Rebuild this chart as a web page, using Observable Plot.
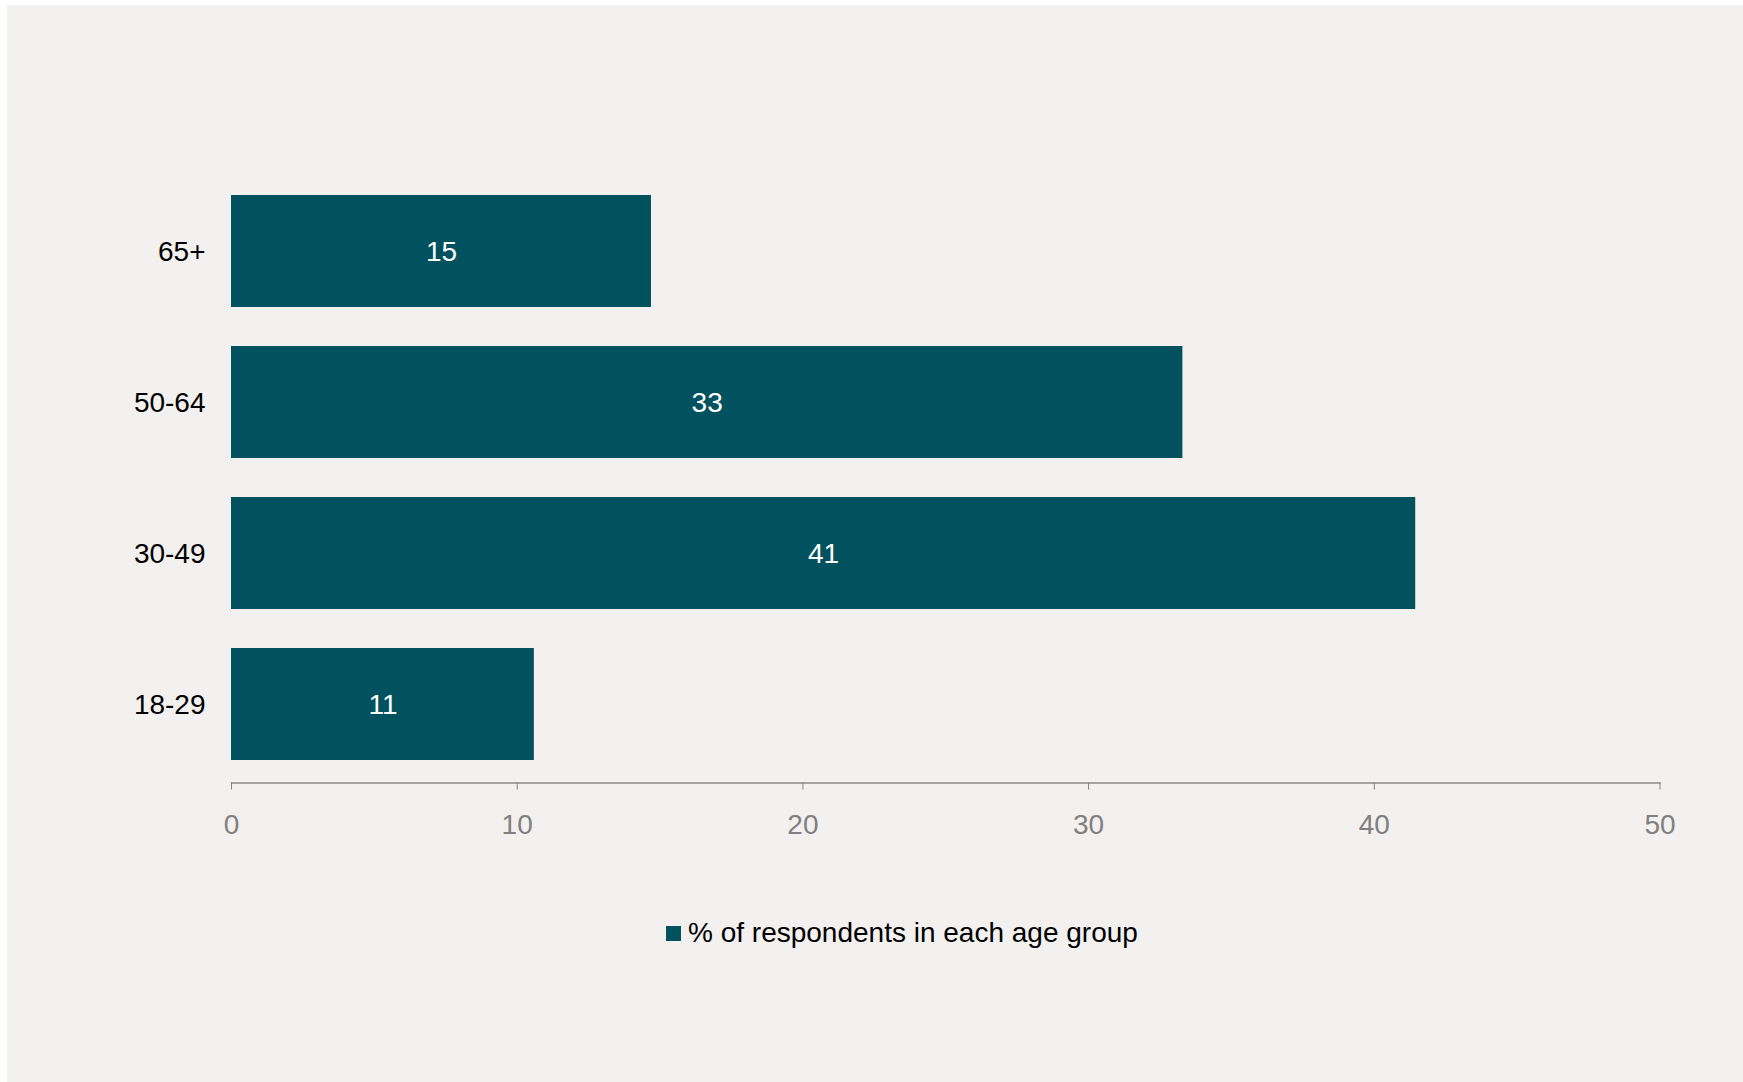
<!DOCTYPE html>
<html>
<head>
<meta charset="utf-8">
<script src="https://cdn.jsdelivr.net/npm/d3@7"></script>
<script src="https://cdn.jsdelivr.net/npm/@observablehq/plot@0.6"></script>
<style>
  html, body { margin: 0; padding: 0; background: #ffffff; }
  body { width: 1743px; height: 1082px; overflow: hidden; position: relative; font-family: "Liberation Sans", Arial, sans-serif; }
  #panel { position: absolute; left: 7px; top: 5px; width: 1736px; height: 1077px; background: #f2f1ef; }
  #chart svg { display: block; }
  #legend { position: absolute; left: 659px; top: 906px; display: flex; align-items: center; gap: 7px; font-size: 28px; color: #000; line-height: 44px; }
  #legend .sw { width: 15px; height: 15px; background: #01525e; margin-top: 1px; }
</style>
</head>
<body>
<div id="panel">
  <div id="chart"></div>
  <div id="legend"><span class="sw"></span><span id="legend-text"></span></div>
</div>
<script>
const categories = ["65+", "50-64", "30-49", "18-29"];
const values = [14.7, 33.3, 41.45, 10.6];
const xTicks = [0, 10, 20, 30, 40, 50];
const seriesName = "% of respondents in each age group";

const barColor = "#01525e";
const data = categories.map((c, i) => ({category: c, value: values[i]}));

const chart = Plot.plot({
  width: 1736,
  height: 840,
  marginLeft: 224,
  marginRight: 83.5,
  marginTop: 168,
  marginBottom: 62.5,
  style: {background: "transparent", fontFamily: "'Liberation Sans', Arial, sans-serif"},
  x: {domain: [0, 50], label: null},
  y: {domain: categories, paddingInner: 0.26, paddingOuter: 0.14, label: null},
  marks: [
    Plot.barX(data, {y: "category", x: "value", fill: barColor}),
    Plot.text(data, {y: "category", x: d => d.value / 2, text: d => String(Math.round(d.value)), fill: "#ffffff", fontSize: 28, dy: 1}),
    Plot.frame({anchor: "bottom", stroke: "#888888", strokeWidth: 1.3}),
    Plot.axisX({ticks: xTicks, tickSize: 7, tickPadding: 24, fontSize: 28, color: "#808080", label: null, tickFormat: d => String(d)}),
    Plot.axisY({tickSize: 0, tickPadding: 26, fontSize: 28, color: "#000000", label: null, dy: 1})
  ]
});
document.getElementById("chart").appendChild(chart);
document.getElementById("legend-text").textContent = seriesName;
</script>
</body>
</html>
